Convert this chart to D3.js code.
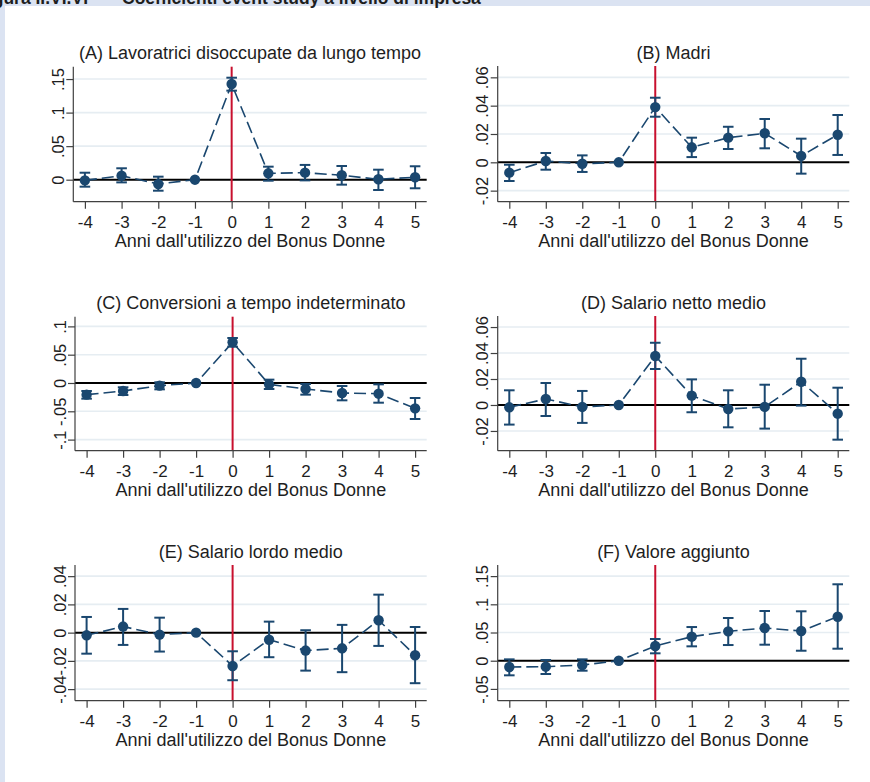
<!DOCTYPE html>
<html><head><meta charset="utf-8">
<script src="https://cdn.jsdelivr.net/npm/d3@7"></script>
<style>
body{margin:0;background:#fff}
svg{display:block;font-family:"Liberation Sans",Arial,Helvetica,sans-serif}
</style>
</head><body>
<svg id="chart" width="870" height="782"></svg>
<script>
// ---- data ----
const years = [-4, -3, -2, -1, 0, 1, 2, 3, 4, 5];
const xTickLabels = ["-4", "-3", "-2", "-1", "0", "1", "2", "3", "4", "5"];
const xAxisTitle = "Anni dall'utilizzo del Bonus Donne";
const captionLead = "Figura II.VI.VI";
const captionText = "Coefficienti event study a livello di impresa";

const titles = [
  "(A) Lavoratrici disoccupate da lungo tempo",
  "(B) Madri",
  "(C) Conversioni a tempo indeterminato",
  "(D) Salario netto medio",
  "(E) Salario lordo medio",
  "(F) Valore aggiunto"
];

const coefA = [-0.001, 0.006, -0.0064, 0, 0.1426, 0.0095, 0.0105, 0.0066, 0.0006, 0.0036];
const loA   = [-0.0104, -0.004, -0.0164, null, 0.1327, -0.0015, -0.001, -0.0074, -0.0154, -0.0128];
const hiA   = [0.0104, 0.017, 0.0045, null, 0.152, 0.0194, 0.022, 0.0204, 0.0149, 0.020];

const coefB = [-0.0073, 0.0009, -0.001, 0, 0.039, 0.0106, 0.0174, 0.0205, 0.0045, 0.0195];
const loB   = [-0.0132, -0.0052, -0.0068, null, 0.0322, 0.0037, 0.0094, 0.0099, -0.008, 0.0052];
const hiB   = [-0.0017, 0.0066, 0.0049, null, 0.0456, 0.0174, 0.0251, 0.0306, 0.0167, 0.0334];

const coefC = [-0.0206, -0.0141, -0.0047, 0, 0.0719, -0.0024, -0.0106, -0.0177, -0.0189, -0.0448];
const loC   = [-0.0277, -0.0212, -0.0112, null, 0.0642, -0.0106, -0.0206, -0.0306, -0.0348, -0.0636];
const hiC   = [-0.0141, -0.0076, 0.0012, null, 0.0795, 0.0059, -0.0018, -0.0053, -0.0024, -0.0265];

const coefD = [-0.0018, 0.0046, -0.0015, 0, 0.0377, 0.0072, -0.0031, -0.0015, 0.0179, -0.0067];
const loD   = [-0.0151, -0.0085, -0.0138, null, 0.0277, -0.0056, -0.0172, -0.0182, -0.0005, -0.0267];
const hiD   = [0.0113, 0.0169, 0.0108, null, 0.0479, 0.0197, 0.0113, 0.0156, 0.0356, 0.0133];

const coefE = [-0.0019, 0.0043, -0.0014, 0, -0.0236, -0.005, -0.0127, -0.0111, 0.0088, -0.016];
const loE   = [-0.0149, -0.0087, -0.0134, null, -0.0337, -0.0174, -0.0269, -0.028, -0.0094, -0.0358];
const hiE   = [0.0111, 0.0168, 0.0106, null, -0.0132, 0.0078, 0.0017, 0.0055, 0.0269, 0.004];

const coefF = [-0.0112, -0.0106, -0.0076, 0, 0.026, 0.0426, 0.0521, 0.058, 0.0527, 0.078];
const loF   = [-0.0259, -0.0236, -0.0177, null, 0.0131, 0.0255, 0.0278, 0.0284, 0.0177, 0.0213];
const hiF   = [0.0024, 0.0012, 0.0024, null, 0.0385, 0.0597, 0.0757, 0.0881, 0.0876, 0.1355];

const yTicksA = [0, 0.05, 0.1, 0.15],          yLabelsA = ["0", ".05", ".1", ".15"];
const yTicksB = [-0.02, 0, 0.02, 0.04, 0.06],  yLabelsB = ["-.02", "0", ".02", ".04", ".06"];
const yTicksC = [-0.1, -0.05, 0, 0.05, 0.1],   yLabelsC = ["-.1", "-.05", "0", ".05", ".1"];
const yTicksD = [-0.02, 0, 0.02, 0.04, 0.06],  yLabelsD = ["-.02", "0", ".02", ".04", ".06"];
const yTicksE = [-0.04, -0.02, 0, 0.02, 0.04], yLabelsE = ["-.04", "-.02", "0", ".02", ".04"];
const yTicksF = [-0.05, 0, 0.05, 0.1, 0.15],   yLabelsF = ["-.05", "0", ".05", ".1", ".15"];

// ---- layout (plot boxes and axis ranges) ----
const panels = [
  {title: titles[0], coef: coefA, lo: loA, hi: hiA, ticks: yTicksA, labels: yLabelsA, box: [73.3, 66.7, 426.7, 201.7], yDom: [-0.0328, 0.1684]},
  {title: titles[1], coef: coefB, lo: loB, hi: hiB, ticks: yTicksB, labels: yLabelsB, box: [497.7, 66, 849.3, 201.7], yDom: [-0.0278, 0.068]},
  {title: titles[2], coef: coefC, lo: loC, hi: hiC, ticks: yTicksC, labels: yLabelsC, box: [75, 316.7, 426.7, 450.7], yDom: [-0.1196, 0.1171]},
  {title: titles[3], coef: coefD, lo: loD, hi: hiD, ticks: yTicksD, labels: yLabelsD, box: [497.7, 316, 849.3, 450.7], yDom: [-0.0352, 0.0685]},
  {title: titles[4], coef: coefE, lo: loE, hi: hiE, ticks: yTicksE, labels: yLabelsE, box: [75, 565, 426.7, 700.7], yDom: [-0.0482, 0.0479]},
  {title: titles[5], coef: coefF, lo: loF, hi: hiF, ticks: yTicksF, labels: yLabelsF, box: [497.7, 565, 849.3, 700.7], yDom: [-0.0709, 0.1697]}
];

const NAVY = "#1a476f", RED = "#c8102e", GRID = "#e6edf2", AXIS = "#404040", FRAME = "#dbe3f2", TXT = "#1e1e1e";

const svg = d3.select("#chart");

// page frame
svg.append("rect").attr("x", 0).attr("y", 0).attr("width", 870).attr("height", 6).attr("fill", FRAME);
svg.append("rect").attr("x", 0).attr("y", 0).attr("width", 5).attr("height", 782).attr("fill", FRAME);
svg.append("text").attr("x", 88).attr("y", 3.5).attr("text-anchor", "end")
  .attr("font-size", 17.5).attr("font-weight", "bold").attr("fill", TXT).text(captionLead);
svg.append("text").attr("x", 122).attr("y", 3.5)
  .attr("font-size", 17.5).attr("font-weight", "bold").attr("fill", TXT).text(captionText);

panels.forEach(p => {
  const [x0, y0, x1, y1] = p.box;
  const pad = 11.6;
  const x = d3.scaleLinear().domain([-4, 5]).range([x0 + pad, x1 - pad]);
  const y = d3.scaleLinear().domain(p.yDom).range([y1, y0]);
  const g = svg.append("g");

  // gridlines
  g.selectAll(".grid").data(p.ticks.filter(t => t !== 0)).join("line")
    .attr("x1", x0).attr("x2", x1)
    .attr("y1", d => y(d)).attr("y2", d => y(d))
    .attr("stroke", GRID).attr("stroke-width", 1.6);

  // zero line
  g.append("line").attr("x1", x0).attr("x2", x1).attr("y1", y(0)).attr("y2", y(0))
    .attr("stroke", "#000").attr("stroke-width", 2);

  // event line at 0
  g.append("line").attr("x1", x(0)).attr("x2", x(0)).attr("y1", y0).attr("y2", y1)
    .attr("stroke", RED).attr("stroke-width", 2);

  // y axis
  const ya = g.append("g").attr("transform", `translate(${x0},0)`)
    .call(d3.axisLeft(y).tickValues(p.ticks).tickFormat((d, i) => p.labels[i]).tickSize(7).tickSizeOuter(0));
  ya.attr("font-family", null).attr("font-size", null);
  ya.select(".domain").attr("stroke", AXIS).attr("stroke-width", 1.2).attr("d", `M0,${y0}V${y1}`);
  ya.selectAll(".tick line").attr("stroke", AXIS).attr("stroke-width", 1.2);
  ya.selectAll(".tick text")
    .attr("x", null).attr("dy", null).attr("y", null)
    .attr("text-anchor", "middle")
    .attr("transform", "translate(-9.5,0) rotate(-90)")
    .attr("font-size", 16.5).attr("fill", TXT);

  // x axis
  const xa = g.append("g").attr("transform", `translate(0,${y1})`)
    .call(d3.axisBottom(x).tickValues(years).tickFormat((d, i) => xTickLabels[i]).tickSize(7).tickSizeOuter(0));
  xa.attr("font-family", null).attr("font-size", null);
  xa.select(".domain").attr("stroke", AXIS).attr("stroke-width", 1.2).attr("d", `M${x0},0H${x1}`);
  xa.selectAll(".tick line").attr("stroke", AXIS).attr("stroke-width", 1.2);
  xa.selectAll(".tick text").attr("y", 26.3).attr("dy", null)
    .attr("font-size", 17).attr("fill", TXT);

  // axis title
  g.append("text").attr("x", (x0 + x1) / 2).attr("y", y1 + 44.8).attr("text-anchor", "middle")
    .attr("font-size", 18).attr("fill", TXT).text(xAxisTitle);

  // panel title
  g.append("text").attr("x", (x0 + x1) / 2).attr("y", y0 - 7.5).attr("text-anchor", "middle")
    .attr("font-size", 18).attr("fill", TXT).text(p.title);

  const pts = years.map((yr, i) => ({yr, c: p.coef[i], lo: p.lo[i], hi: p.hi[i]}));

  // connecting dashed line
  g.append("path").datum(pts)
    .attr("d", d3.line().x(d => x(d.yr)).y(d => y(d.c)))
    .attr("fill", "none").attr("stroke", NAVY).attr("stroke-width", 1.6)
    .attr("stroke-dasharray", "12,5");

  // error bars
  const ci = pts.filter(d => d.lo !== null);
  g.selectAll(".ci").data(ci).join("line")
    .attr("x1", d => x(d.yr)).attr("x2", d => x(d.yr))
    .attr("y1", d => y(d.lo)).attr("y2", d => y(d.hi))
    .attr("stroke", NAVY).attr("stroke-width", 2);
  ["lo", "hi"].forEach(k => {
    g.selectAll(".cap" + k).data(ci).join("line")
      .attr("x1", d => x(d.yr) - 5.3).attr("x2", d => x(d.yr) + 5.3)
      .attr("y1", d => y(d[k])).attr("y2", d => y(d[k]))
      .attr("stroke", NAVY).attr("stroke-width", 2);
  });

  // markers
  g.selectAll(".pt").data(pts).join("circle")
    .attr("cx", d => x(d.yr)).attr("cy", d => y(d.c)).attr("r", 5.2)
    .attr("fill", NAVY);
});
</script>
</body></html>
